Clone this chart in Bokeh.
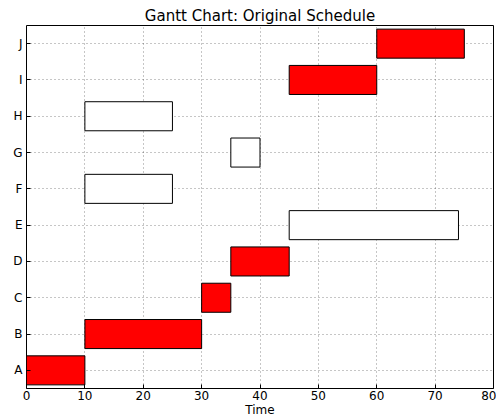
from bokeh.plotting import figure
from bokeh.models import ColumnDataSource, FactorRange, Range1d, FixedTicker
from bokeh.embed import file_html
from bokeh.resources import INLINE

tasks = ["A", "B", "C", "D", "E", "F", "G", "H", "I", "J"]
start = [0, 10, 30, 35, 45, 10, 35, 10, 45, 60]
finish = [10, 30, 35, 45, 74, 25, 40, 25, 60, 75]
critical = [True, True, True, True, False, False, False, False, True, True]
x_ticks = [0, 10, 20, 30, 40, 50, 60, 70, 80]

fills = ["#ff0000" if c else "white" for c in critical]
src = ColumnDataSource(dict(task=tasks, start=start, finish=finish, fill=fills))

FONT = "DejaVu Sans"
p = figure(width=496, height=419, output_backend="svg", toolbar_location=None,
           x_range=Range1d(0, 80), y_range=FactorRange(factors=tasks, range_padding=0),
           title="Gantt Chart: Original Schedule",
           min_border_left=26, min_border_right=3, min_border_top=25, min_border_bottom=30)
p.title.align = "center"
p.title.text_font = FONT
p.title.text_font_size = "15px"
p.title.text_font_style = "normal"
p.title.text_color = "black"
p.title.standoff = 2

p.hbar(y="task", left="start", right="finish", height=0.8, source=src,
       fill_color="fill", line_color="black", line_width=1)

p.outline_line_color = "black"
p.outline_line_width = 1
p.outline_line_alpha = 1

for g in (p.xgrid, p.ygrid):
    g.grid_line_color = "black"
    g.grid_line_alpha = 0.45
    g.grid_line_dash = "1 3"
    g.grid_line_width = 1
p.xgrid.ticker = FixedTicker(ticks=x_ticks)

xa = p.xaxis[0]
xa.ticker = FixedTicker(ticks=x_ticks)
xa.axis_label = "Time"
xa.axis_label_text_font = FONT
xa.axis_label_text_font_size = "12px"
xa.axis_label_text_font_style = "normal"
xa.axis_label_text_color = "black"
xa.axis_label_standoff = 0
xa.major_label_text_font = FONT
xa.major_label_text_font_size = "12px"
xa.major_label_text_color = "black"
xa.major_label_standoff = 2
xa.axis_line_color = None
xa.major_tick_in = 4
xa.major_tick_out = 0
xa.minor_tick_line_color = None

ya = p.yaxis[0]
ya.major_label_text_font = FONT
ya.major_label_text_font_size = "12px"
ya.major_label_text_color = "black"
ya.major_label_standoff = 4
ya.axis_line_color = None
ya.major_tick_in = 4
ya.major_tick_out = 0

open("out.html", "w").write(file_html(p, INLINE))
